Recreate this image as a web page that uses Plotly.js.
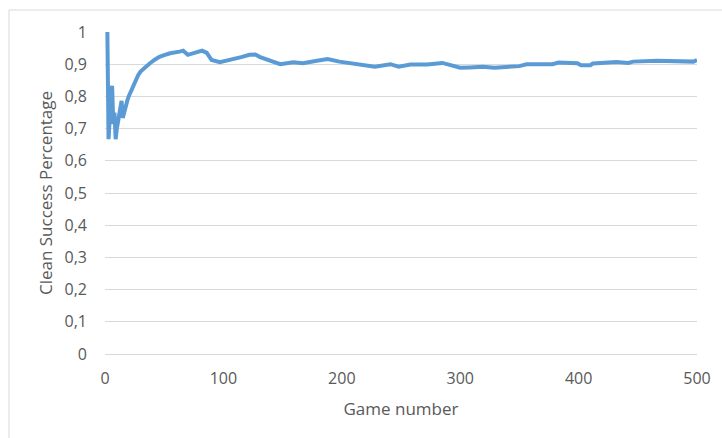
<!DOCTYPE html>
<html>
<head>
<meta charset="utf-8">
<script src="https://cdn.plot.ly/plotly-3.0.1.min.js"></script>
<style>
  html, body { margin: 0; padding: 0; background: #ffffff; }
  #chart { width: 722px; height: 438px; }
</style>
</head>
<body>
<div id="chart"></div>
<script>
// Running clean-success rate after each game
const games = [
  1, 2, 3, 4, 5, 6, 7, 8, 9, 10,
  11, 12, 13, 14, 15, 16, 17, 18, 19, 20,
  22, 24, 26, 28, 30, 33, 38, 42, 46, 50,
  55, 63, 66, 70, 75, 82, 86, 90, 97, 106,
  115, 122, 127, 131, 139, 148, 159, 167, 179, 188,
  198, 207, 218, 228, 241, 248, 258, 272, 285, 291,
  300, 308, 319, 329, 350, 356, 378, 383, 399, 402,
  410, 412, 432, 442, 446, 466, 497, 500
];
const successRate = [
  1.0, 1.0, 0.667, 0.75, 0.8, 0.833, 0.714, 0.75, 0.667, 0.7,
  0.727, 0.75, 0.769, 0.786, 0.733, 0.75, 0.765, 0.778, 0.789, 0.8,
  0.818, 0.838, 0.855, 0.866, 0.877, 0.888, 0.903, 0.914, 0.923, 0.928,
  0.934, 0.939, 0.942, 0.929, 0.935, 0.942, 0.935, 0.913, 0.906, 0.913,
  0.922, 0.929, 0.93, 0.922, 0.913, 0.9, 0.906, 0.903, 0.911, 0.916,
  0.908, 0.903, 0.9, 0.892, 0.9, 0.892, 0.899, 0.899, 0.904, 0.899,
  0.889, 0.89, 0.892, 0.889, 0.894, 0.9, 0.9, 0.905, 0.903, 0.897,
  0.897, 0.902, 0.907, 0.904, 0.908, 0.911, 0.908, 0.913
];
const yTicks = [0, 0.1, 0.2, 0.3, 0.4, 0.5, 0.6, 0.7, 0.8, 0.9, 1];
const xTicks = [0, 100, 200, 300, 400, 500];
const xTitle = 'Game number';
const yTitle = 'Clean Success Percentage';

const labelColor = '#595959';
const gridColor = '#d9d9d9';
const fontFamily = '"Open Sans", "Noto Sans", sans-serif';

const trace = {
  x: games,
  y: successRate,
  type: 'scatter',
  mode: 'lines',
  line: { color: '#5b9bd5', width: 4 },
  hoverinfo: 'skip'
};

const layout = {
  width: 722,
  height: 438,
  margin: { l: 105, r: 25, t: 32, b: 84 },
  paper_bgcolor: '#ffffff',
  plot_bgcolor: '#ffffff',
  separators: ', ',
  showlegend: false,
  font: { family: fontFamily, size: 16, color: labelColor },
  xaxis: {
    range: [0, 500],
    tickmode: 'array',
    tickvals: xTicks,
    ticktext: xTicks.map(String),
    showgrid: false,
    zeroline: false,
    showline: false,
    ticks: '',
    ticklabelstandoff: 13,
    tickfont: { family: fontFamily, size: 16, color: labelColor },
    title: { text: xTitle, font: { family: fontFamily, size: 17, color: labelColor }, standoff: 15 }
  },
  yaxis: {
    range: [0, 1],
    tickmode: 'array',
    tickvals: yTicks,
    showgrid: true,
    gridcolor: gridColor,
    gridwidth: 1,
    zeroline: true,
    zerolinecolor: gridColor,
    zerolinewidth: 1,
    showline: false,
    ticks: '',
    ticklabelstandoff: 17,
    tickfont: { family: fontFamily, size: 16, color: labelColor },
    title: { text: yTitle, font: { family: fontFamily, size: 17, color: labelColor }, standoff: 7 }
  },
  shapes: [
    {
      type: 'rect', xref: 'paper', yref: 'paper',
      x0: -0.1622, x1: 1.06, y0: -0.3, y1: 1.0683,
      line: { color: gridColor, width: 1 },
      fillcolor: 'rgba(0,0,0,0)',
      layer: 'below'
    }
  ]
};

Plotly.newPlot('chart', [trace], layout, { displayModeBar: false, staticPlot: true });
</script>
</body>
</html>
